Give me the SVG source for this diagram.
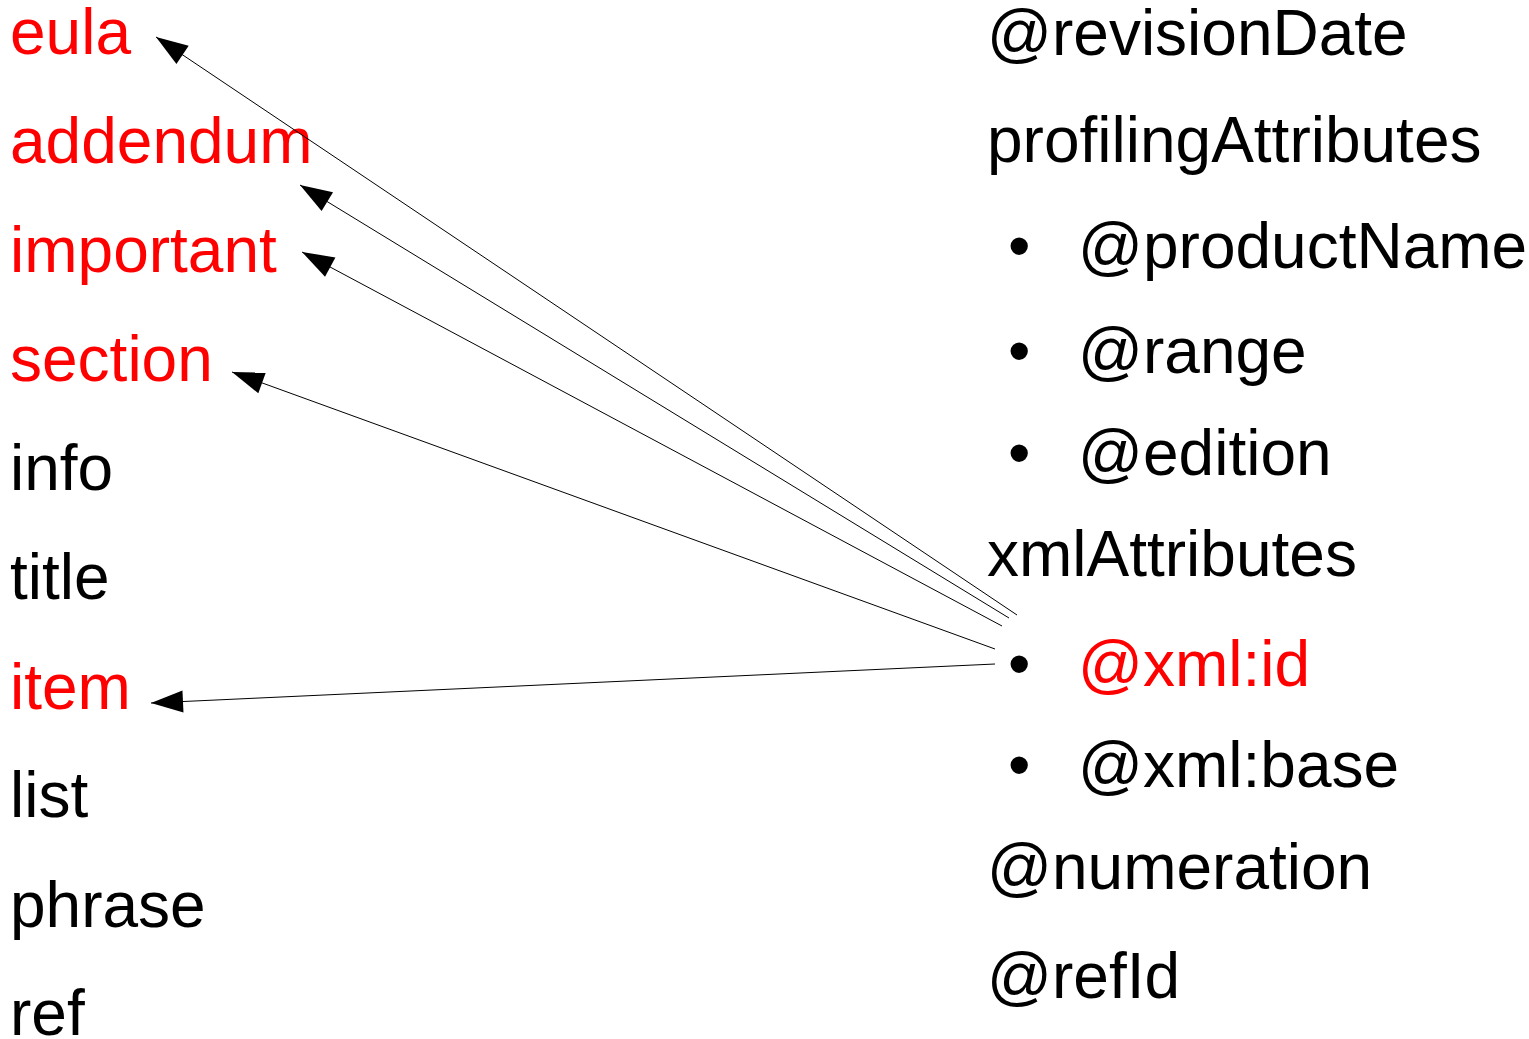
<svg xmlns="http://www.w3.org/2000/svg" width="1529" height="1039" viewBox="0 0 1529 1039">
<style>
text{font-family:"Liberation Sans",Arial,sans-serif;font-size:64px;fill:#000}
.hl{fill:#ff0000}
.conn line{stroke:#000;stroke-width:1;fill:none;marker-start:url(#ah)}
</style>
<defs>
<marker id="ah" markerUnits="userSpaceOnUse" markerWidth="34" markerHeight="24" viewBox="0 0 34 24" refX="1" refY="12" orient="auto">
<path d="M1,12 L33,1 L33,23 z" fill="#000"/>
</marker>
</defs>
<rect width="1529" height="1039" fill="#fff"/>
<g id="left">
<g id="n-eula"><text class="hl" x="10" y="54">eula</text></g>
<g id="n-addendum"><text class="hl" x="10" y="163">addendum</text></g>
<g id="n-important"><text class="hl" x="10" y="272">important</text></g>
<g id="n-section"><text class="hl" x="10" y="381">section</text></g>
<g id="n-info"><text x="10" y="490">info</text></g>
<g id="n-title"><text x="10" y="599">title</text></g>
<g id="n-item"><text class="hl" x="10" y="709">item</text></g>
<g id="n-list"><text x="10" y="817">list</text></g>
<g id="n-phrase"><text x="10" y="927">phrase</text></g>
<g id="n-ref"><text x="10" y="1035">ref</text></g>
</g>
<g id="right">
<g id="n-revisionDate"><text x="987" y="55">@revisionDate</text></g>
<g id="n-profilingAttributes"><text x="987" y="162">profilingAttributes</text></g>
<g id="n-productName"><text x="1008" y="268">•</text><text x="1078" y="268">@productName</text></g>
<g id="n-range"><text x="1008" y="373">•</text><text x="1078" y="373">@range</text></g>
<g id="n-edition"><text x="1008" y="475">•</text><text x="1078" y="475">@edition</text></g>
<g id="n-xmlAttributes"><text x="987" y="576">xmlAttributes</text></g>
<g id="n-xmlid"><text x="1008" y="686">•</text><text class="hl" x="1078" y="686">@xml:id</text></g>
<g id="n-xmlbase"><text x="1008" y="787">•</text><text x="1078" y="787">@xml:base</text></g>
<g id="n-numeration"><text x="987" y="889">@numeration</text></g>
<g id="n-refId"><text x="987" y="998">@refId</text></g>
</g>
<g id="connectors" class="conn">
<line x1="156" y1="37" x2="1017" y2="615"/>
<line x1="300" y1="185" x2="1009" y2="618"/>
<line x1="302" y1="252" x2="1002" y2="626"/>
<line x1="232" y1="372" x2="995" y2="649"/>
<line x1="151" y1="703" x2="995" y2="664"/>
</g>
</svg>
